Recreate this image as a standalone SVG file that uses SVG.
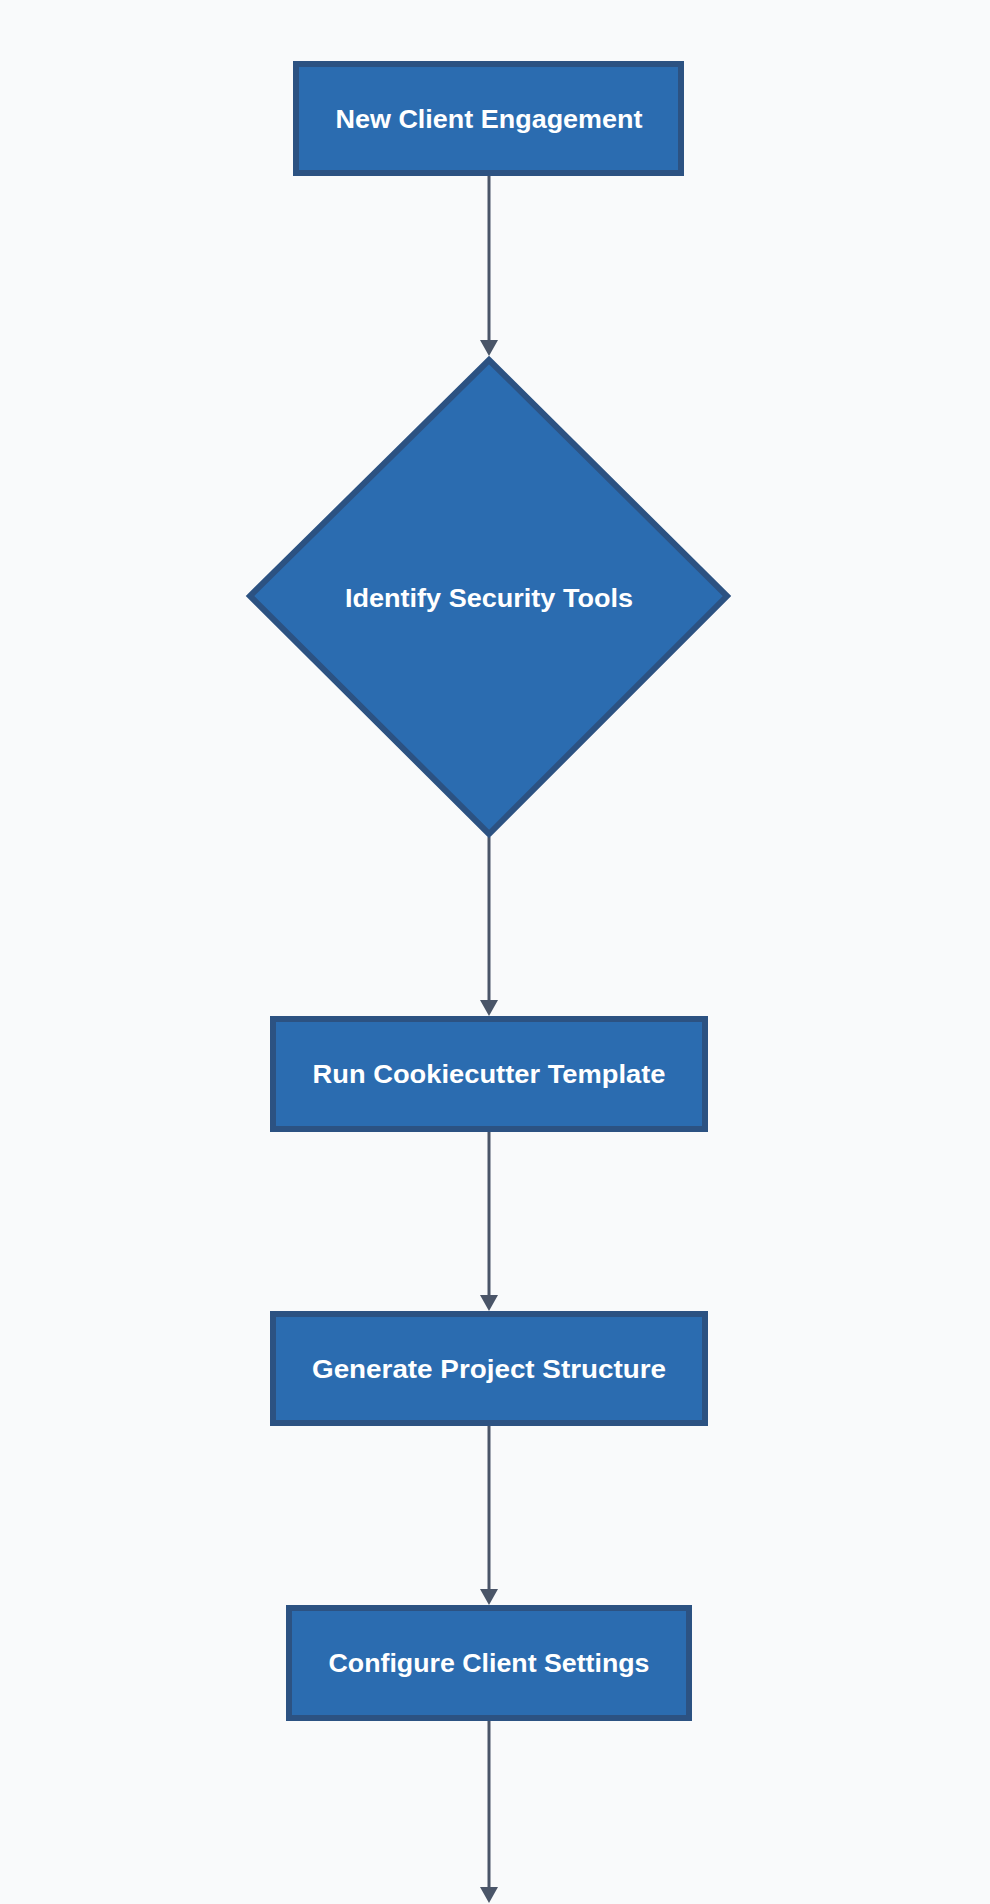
<svg xmlns="http://www.w3.org/2000/svg" width="990" height="1904" viewBox="0 0 990 1904">
<style>
.node{fill:#2b6cb0;stroke:#2c5282;stroke-width:6}
.lbl{fill:#ffffff;font-family:"Liberation Sans",Arial,sans-serif;font-weight:bold;font-size:26px;text-anchor:middle}
.edge{fill:none;stroke:#4a5568;stroke-width:3}
</style>
<defs>
<marker id="arrow" markerUnits="userSpaceOnUse" markerWidth="16" markerHeight="18" viewBox="0 0 16 18" refX="0" refY="9" orient="auto">
<path d="M0,0 L16,9 L0,18 Z" fill="#4a5568"/>
</marker>
</defs>
<rect width="990" height="1904" fill="#f9fafb"/>
<g id="connectors">
<path class="edge" d="M489,176 L489,340" marker-end="url(#arrow)"/>
<path class="edge" d="M489,837 L489,1000" marker-end="url(#arrow)"/>
<path class="edge" d="M489,1132 L489,1295" marker-end="url(#arrow)"/>
<path class="edge" d="M489,1426 L489,1589" marker-end="url(#arrow)"/>
<path class="edge" d="M489,1721 L489,1887" marker-end="url(#arrow)"/>
</g>
<g id="n1">
<rect class="node" x="296" y="64" width="385" height="109"/>
<text class="lbl" x="489" y="128" textLength="307" lengthAdjust="spacingAndGlyphs">New Client Engagement</text>
</g>
<g id="n2">
<polygon class="node" points="489,360 727,596 489,834 250,596"/>
<text class="lbl" x="489" y="607" textLength="288" lengthAdjust="spacingAndGlyphs">Identify Security Tools</text>
</g>
<g id="n3">
<rect class="node" x="273" y="1019" width="432" height="110"/>
<text class="lbl" x="489" y="1083" textLength="353" lengthAdjust="spacingAndGlyphs">Run Cookiecutter Template</text>
</g>
<g id="n4">
<rect class="node" x="273" y="1314" width="432" height="109"/>
<text class="lbl" x="489" y="1378" textLength="354" lengthAdjust="spacingAndGlyphs">Generate Project Structure</text>
</g>
<g id="n5">
<rect class="node" x="289" y="1608" width="400" height="110"/>
<text class="lbl" x="489" y="1672" textLength="321" lengthAdjust="spacingAndGlyphs">Configure Client Settings</text>
</g>
</svg>
